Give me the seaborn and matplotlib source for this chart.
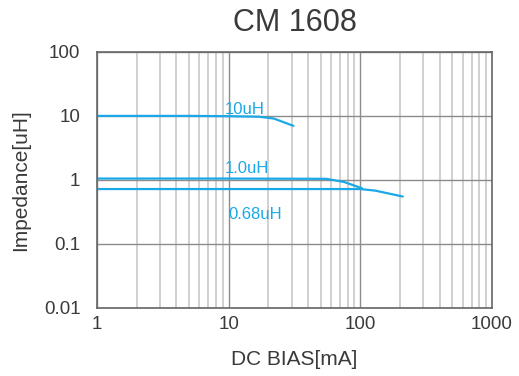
import numpy as np
import pandas as pd
import matplotlib
matplotlib.use("Agg")
import matplotlib.pyplot as plt
import seaborn as sns
from matplotlib.ticker import LogLocator, FixedLocator, NullFormatter

# Data
bias_10uH = [1, 5, 10, 17, 22, 31]
imp_10uH = [10.0, 10.0, 9.9, 9.7, 9.1, 7.0]

bias_1uH = [1, 10, 55, 75, 103]
imp_1uH = [1.05, 1.05, 1.04, 0.93, 0.74]

bias_068uH = [1, 10, 100, 130, 210]
imp_068uH = [0.72, 0.72, 0.72, 0.68, 0.55]

labels = ["10uH", "1.0uH", "0.68uH"]
x_ticks = [1, 10, 100, 1000]
y_ticks = [0.01, 0.1, 1, 10, 100]
y_ticklabels = ["0.01", "0.1", "1", "10", "100"]

df = pd.concat([
    pd.DataFrame({"bias": bias_10uH, "imp": imp_10uH, "part": labels[0]}),
    pd.DataFrame({"bias": bias_1uH, "imp": imp_1uH, "part": labels[1]}),
    pd.DataFrame({"bias": bias_068uH, "imp": imp_068uH, "part": labels[2]}),
])

sns.set_style("white")
plt.rcParams['font.family'] = ['Liberation Sans', 'DejaVu Sans']

blue = "#1aa8e6"
txt = "#3a3a3a"
fig = plt.figure(figsize=(5.19, 3.76), dpi=100)
ax = fig.add_axes([0.187, 0.181, 0.761, 0.681])

sns.lineplot(data=df, x="bias", y="imp", hue="part", palette=[blue] * 3,
             sort=False, estimator=None, linewidth=1.6, legend=False, ax=ax)

ax.set_xscale("log")
ax.set_yscale("log")
ax.set_xlim(1, 1000)
ax.set_ylim(0.01, 100)

ax.xaxis.set_major_locator(FixedLocator(x_ticks))
ax.set_xticklabels([str(t) for t in x_ticks])
ax.xaxis.set_minor_locator(LogLocator(base=10, subs=np.arange(2, 10)))
ax.xaxis.set_minor_formatter(NullFormatter())
ax.yaxis.set_major_locator(FixedLocator(y_ticks))
ax.set_yticklabels(y_ticklabels)
ax.yaxis.set_minor_locator(FixedLocator([]))

ax.grid(True, which="major", axis="both", color="#8c8c8c", linewidth=1.0)
ax.grid(True, which="minor", axis="x", color="#c8c8c8", linewidth=1.2)
ax.tick_params(which="both", length=0, labelsize=13.5, colors=txt)
ax.tick_params(axis="y", pad=12)
ax.tick_params(axis="x", pad=6)
for s in ax.spines.values():
    s.set_color("#666666")
    s.set_linewidth(1.2)

ax.text(9.4, 10.9, labels[0], color=blue, fontsize=12)
ax.text(9.4, 1.29, labels[1], color=blue, fontsize=12)
ax.text(9.9, 0.245, labels[2], color=blue, fontsize=12)

ax.set_xlabel("DC BIAS[mA]", fontsize=15, color=txt, labelpad=12)
ax.set_ylabel("Impedance[uH]", fontsize=15, color=txt, labelpad=10)
ax.set_title("CM 1608", fontsize=22, color=txt, pad=15)

fig.savefig("out.png", dpi=100)
